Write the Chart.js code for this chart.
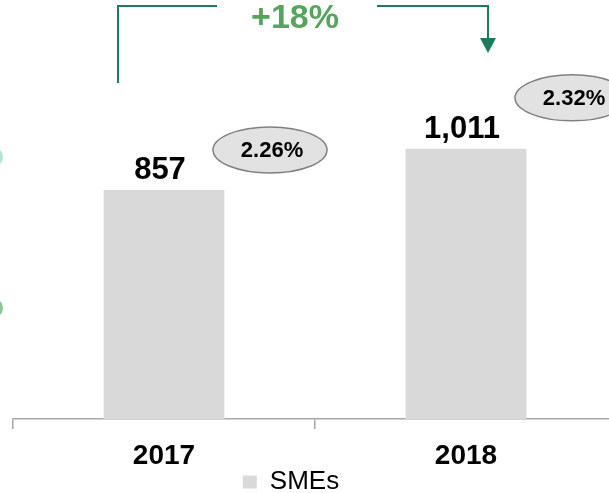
<!DOCTYPE html>
<html>
<head>
<meta charset="utf-8">
<title>SMEs 2017-2018</title>
<script src="https://cdn.jsdelivr.net/npm/chart.js@4.4.1/dist/chart.umd.min.js"></script>
<style>
  html, body { margin: 0; padding: 0; background: #fff; width: 609px; height: 493px; overflow: hidden; }
  /* the x axis runs past the right edge in the original, so the canvas is wider and shifted left */
  #wrap { position: absolute; left: -35px; top: 0; width: 652px; height: 505px; }
</style>
</head>
<body>
<div id="wrap"><canvas id="chart"></canvas></div>
<script>
  'use strict';

  const years = ['2017', '2018'];
  const smeCounts = [857, 1011];
  const smeShares = [2.26, 2.32];
  const seriesLabel = 'SMEs';

  const FONT = "'Liberation Sans', Arial, sans-serif";
  const GREEN_LINE = '#1b7b5a';
  const GREEN_TEXT = '#58a45e';

  /**
   * Value labels, share bubbles and the growth bracket
   */
  const annotations = {
    id: 'annotations',
    afterDatasetsDraw(chart) {
      const ctx = chart.ctx;
      const bars = chart.getDatasetMeta(0).data;
      const shares = chart.getDatasetMeta(1).data;

      ctx.save();

      // bar values
      ctx.fillStyle = '#000';
      ctx.font = 'bold 31px ' + FONT;
      ctx.textAlign = 'center';
      ctx.textBaseline = 'alphabetic';
      bars.forEach((bar, i) => {
        ctx.fillText(smeCounts[i].toLocaleString('en-US'), bar.x - 4, bar.y - 11);
      });

      // share bubbles
      shares.forEach((pt, i) => {
        const cx = pt.x + 106;
        const cy = pt.y;
        ctx.beginPath();
        ctx.ellipse(cx, cy, 57, 23, 0, 0, Math.PI * 2);
        ctx.fillStyle = '#e2e2e2';
        ctx.fill();
        ctx.lineWidth = 1.5;
        ctx.strokeStyle = '#808080';
        ctx.stroke();
        ctx.fillStyle = '#000';
        ctx.font = 'bold 22px ' + FONT;
        ctx.textBaseline = 'middle';
        ctx.fillText(smeShares[i].toFixed(2) + '%', cx + 2, cy + 1);
      });

      // growth bracket
      const growth = Math.round((smeCounts[1] / smeCounts[0] - 1) * 100);
      const leftX = bars[0].x - 46;
      const rightX = bars[1].x + 22;
      const topY = chart.chartArea.top - 12;
      const textX = (leftX + rightX) / 2 - 8;
      const textHalf = 48;

      ctx.strokeStyle = GREEN_LINE;
      ctx.lineWidth = 2;
      ctx.beginPath();
      ctx.moveTo(leftX, 83);
      ctx.lineTo(leftX, topY);
      ctx.lineTo(textX - textHalf - 30, topY);
      ctx.moveTo(textX + textHalf + 34, topY);
      ctx.lineTo(rightX, topY);
      ctx.lineTo(rightX, 40);
      ctx.stroke();

      ctx.fillStyle = GREEN_LINE;
      ctx.beginPath();
      ctx.moveTo(rightX - 8, 38);
      ctx.lineTo(rightX + 8, 38);
      ctx.lineTo(rightX, 53);
      ctx.closePath();
      ctx.fill();

      ctx.fillStyle = GREEN_TEXT;
      ctx.font = 'bold 34px ' + FONT;
      ctx.textBaseline = 'alphabetic';
      ctx.fillText('+' + growth + '%', textX, 28);

      // edge of the neighbouring graphic, cut off at the left border
      ctx.fillStyle = '#b3e6d2';
      ctx.beginPath();
      ctx.arc(35 - 7, 157, 10, 0, Math.PI * 2);
      ctx.fill();
      ctx.fillStyle = '#86c994';
      ctx.beginPath();
      ctx.arc(35 - 7, 308, 10, 0, Math.PI * 2);
      ctx.fill();

      ctx.restore();
    }
  };

  const ctx = document.getElementById('chart').getContext('2d');

  new Chart(ctx, {
    type: 'bar',
    data: {
      labels: years,
      datasets: [
        {
          label: seriesLabel,
          data: smeCounts,
          backgroundColor: '#d9d9d9',
          borderWidth: 0,
          barPercentage: 0.4,
          categoryPercentage: 1,
          yAxisID: 'y'
        },
        {
          type: 'line',
          label: 'share',
          data: smeShares,
          showLine: false,
          pointRadius: 0,
          pointHoverRadius: 0,
          yAxisID: 'y2'
        }
      ]
    },
    options: {
      responsive: true,
      maintainAspectRatio: false,
      animation: false,
      events: [],
      layout: {
        padding: { top: 18, left: 0, right: 0, bottom: 0 }
      },
      plugins: {
        tooltip: { enabled: false },
        legend: {
          display: true,
          position: 'bottom',
          labels: {
            boxWidth: 14,
            boxHeight: 13,
            padding: 2,
            color: '#000',
            font: { family: FONT, size: 26 },
            filter: item => item.datasetIndex === 0
          }
        }
      },
      scales: {
        x: {
          grid: {
            display: true,
            drawOnChartArea: false,
            drawTicks: true,
            tickLength: 10,
            color: '#a6a6a6',
            lineWidth: 1.5,
            offset: true
          },
          border: { display: true, color: '#a6a6a6', width: 1.5 },
          ticks: {
            color: '#000',
            padding: 10,
            font: { family: FONT, size: 28, weight: 'bold' }
          },
          afterFit: axis => { axis.height = 48; }
        },
        y: {
          display: true,
          min: 0,
          max: 1500,
          grid: { display: false },
          border: { display: false },
          ticks: { display: false },
          afterFit: axis => { axis.width = 48; }
        },
        y2: {
          display: false,
          position: 'right',
          min: 1.95,
          max: 2.412
        }
      }
    },
    plugins: [annotations]
  });
</script>
</body>
</html>
